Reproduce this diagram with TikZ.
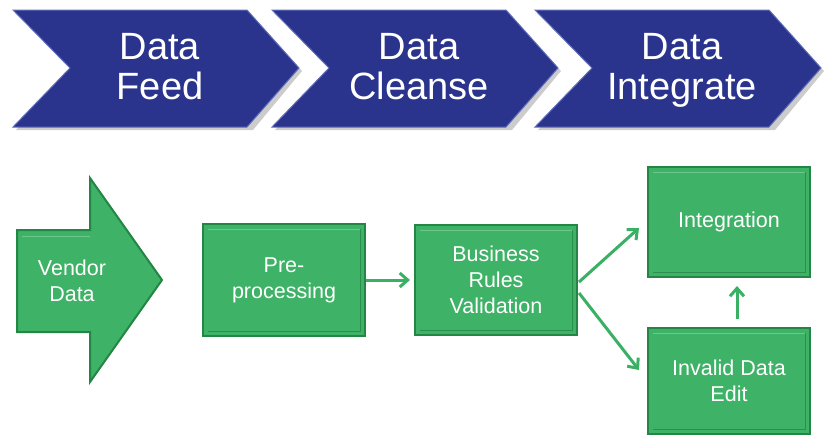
\documentclass[tikz,border=0pt]{standalone}
\usepackage{fontspec}
\setmainfont{Liberation Sans}
\usetikzlibrary{arrows.meta,calc}
\definecolor{navy}{RGB}{42,52,140}
\definecolor{navyedge}{RGB}{96,110,186}
\definecolor{gfill}{RGB}{62,178,102}
\definecolor{gedge}{RGB}{36,134,68}
\definecolor{glight}{RGB}{110,200,140}
\definecolor{garrow}{RGB}{58,176,100}
\tikzset{
  chev/.style={fill=navy, draw=navyedge, line width=1pt, line join=miter},
  chevtext/.style={text=white, font=\fontsize{38}{40}\selectfont, align=center, anchor=north, inner sep=0pt},
  bevel/.style={path picture={\draw[glight, line width=1pt] ([shift={(5pt,-5pt)}]path picture bounding box.north west) -- ([shift={(-5pt,-5pt)}]path picture bounding box.north east);
     \draw[gedge!80!gfill, line width=1pt] ([shift={(-5pt,-5pt)}]path picture bounding box.north east) -- ([shift={(-5pt,5pt)}]path picture bounding box.south east) -- ([shift={(5pt,5pt)}]path picture bounding box.south west);}},
  gtext/.style={text=white, align=center, font=\fontsize{21.5}{26}\selectfont},
  gbox/.style={gtext, fill=gfill, draw=gedge, line width=2pt, minimum width=162pt, minimum height=110pt, inner sep=0pt, bevel},
  gshape/.style={fill=gfill, draw=gedge, line width=2pt, line join=miter},
  conn/.style={draw=garrow, line width=3pt, -{Straight Barb[length=8pt,width=14pt,line width=3pt]}},
}
\begin{document}
\begin{tikzpicture}[x=1pt,y=-1pt]
\useasboundingbox (0,0) rectangle (824,437);
% chevrons
\foreach \xo in {13,272,535}{
  \fill[gray!40] (\xo+3,13) -- ++(234,0) -- (\xo+289,71) -- (\xo+240,130) -- (\xo+3,130) -- (\xo+60,71) -- cycle;
  \draw[chev] (\xo,10) -- ++(234,0) -- (\xo+286,68) -- (\xo+234,127) -- (\xo,127) -- (\xo+57,68) -- cycle;
}
\node[chevtext] (feed) at (160,33) {Data\\Feed};
\node[chevtext] (cleanse) at (419,33) {Data\\Cleanse};
\node[chevtext] (integrate) at (682,33) {Data\\Integrate};
% vendor arrow
\draw[gshape] (17,230) -- (90,230) -- (90,178) -- (162,280) -- (90,382) -- (90,332) -- (17,332) -- cycle;
\draw[glight, line width=1pt] (22,236) -- (90,236);
\node[gtext] (vendor) at (72,281) {Vendor\\Data};
% boxes
\node[gbox, minimum height=112pt] (pre) at (284,280) {Pre-\\processing};
\node[gbox] (bus) at (496,280) {Business\\Rules\\Validation};
\node[gbox] (int) at (729,222) {Integration};
\node[gbox, minimum height=106pt] (inv) at (729,381) {Invalid Data\\Edit};
% connectors
\draw[conn] (pre.east) -- ($(pre.east)+(44,0)$);
\coordinate (busA) at ($(bus.east)+(1,2)$);
\coordinate (busB) at ($(bus.east)+(1,13)$);
\draw[conn] (busA) -- ($(int.west)+(-8,6)$);
\draw[conn] (busB) -- ($(inv.west)+(-8,-11)$);
\draw[conn] ($(inv.north)+(8,-8)$) -- ($(int.south)+(8,8)$);
\end{tikzpicture}
\end{document}
